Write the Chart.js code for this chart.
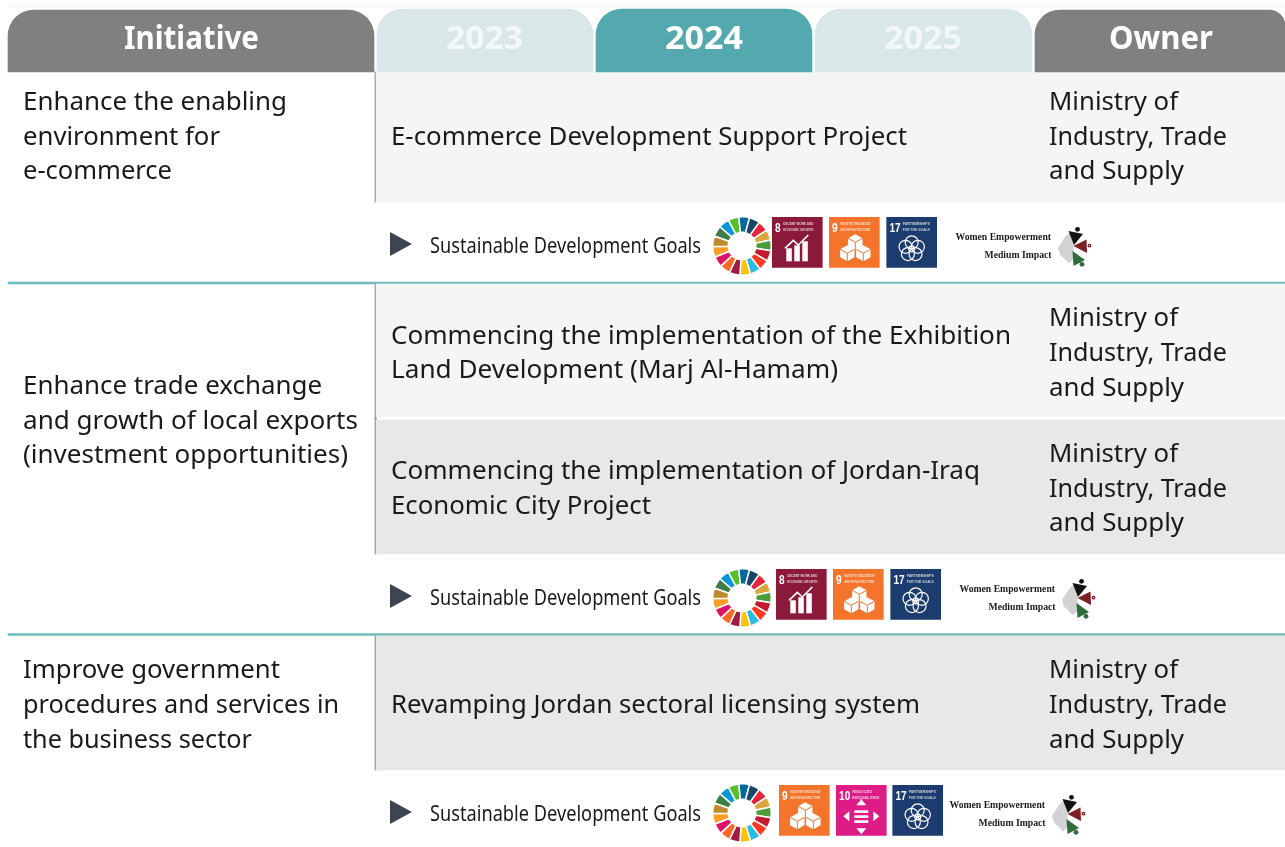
<!DOCTYPE html>
<html>
<head>
<meta charset="utf-8">
<title>Initiatives table</title>
<script src="https://cdn.jsdelivr.net/npm/chart.js@4"></script>
<style>
  html, body { margin: 0; padding: 0; background: #fff; overflow: hidden; }
  #wrap { position: relative; width: 1285px; height: 847px; filter: blur(0.35px); }
  #wrap canvas { position: absolute; }
  #wheel0, #wheel1, #wheel2 { filter: blur(0.6px); }
</style>
</head>
<body>
<div id="wrap">
  <canvas id="table" width="1285" height="847" style="left:0;top:0"></canvas>
  <canvas id="wheel0" width="60" height="60"></canvas>
  <canvas id="wheel1" width="60" height="60"></canvas>
  <canvas id="wheel2" width="60" height="60"></canvas>
</div>
<script>
// data
var columns = ["Initiative", "2023", "2024", "2025", "Owner"];
var initiatives = [
  ["Enhance the enabling", "environment for", "e-commerce"],
  ["Enhance trade exchange", "and growth of local exports", "(investment opportunities)"],
  ["Improve government", "procedures and services in", "the business sector"]
];
var projects = [
  ["E-commerce Development Support Project"],
  ["Commencing the implementation of the Exhibition", "Land Development (Marj Al-Hamam)"],
  ["Commencing the implementation of Jordan-Iraq", "Economic City Project"],
  ["Revamping Jordan sectoral licensing system"]
];
var owners = ["Ministry of", "Industry, Trade", "and Supply"];
var stripLabel = "Sustainable Development Goals";
var stripGoals = [[8, 9, 17], [8, 9, 17], [9, 10, 17]];
var womenLabels = ["Women Empowerment", "Medium Impact"];
var wheelSlices = [1, 1, 1, 1, 1, 1, 1, 1, 1, 1, 1, 1, 1, 1, 1, 1, 1];
var goalCaptions = {
  8: ["DECENT WORK AND", "ECONOMIC GROWTH"],
  9: ["INDUSTRY, INNOVATION", "AND INFRASTRUCTURE"],
  10: ["REDUCED", "INEQUALITIES"],
  17: ["PARTNERSHIPS", "FOR THE GOALS"]
};

// colours
var sdgColors = ["#e5243b", "#dda63a", "#4c9f38", "#c5192d", "#ff3a21", "#26bde2", "#fcc30b", "#a21942",
  "#fd6925", "#dd1367", "#fd9d24", "#bf8b2e", "#3f7e44", "#0a97d9", "#56c02b", "#00689d", "#19486a"];
var goalColors = { 8: "#8b1a3a", 9: "#f3742a", 10: "#dd1c85", 17: "#1c3b6e" };
var headColors = ["#808080", "#d9e7e8", "#53a9ae", "#d9e7e8", "#808080"];
var rowColors = ["#f5f5f5", "#f5f5f5", "#e9e7e8", "#e9e7e8"];

// table geometry, page pixels
var colLeft = [8, 377, 596, 815, 1035];
var colRight = [374, 593, 812, 1032, 1285];
var headTop = [10, 9, 9, 9, 10];
var headBottom = 72;
var rowTop = [72, 284, 420, 636];
var rowBottom = [202, 417, 554, 770];
var tealLines = [283, 634.5];
var ruleSpans = [[72, 202], [284, 554], [636, 770]];
var initiativeBase = [110, 394, 678.4];
var projectBase = [145, 343.7, 479, 713];
var ownerBase = [110, 326.3, 462, 678.3];
var lineStep = 34.7;
var stripMid = [244, 596, 812];
var stripTileLeft = [[772.3, 829.3, 886.7], [776.3, 833.3, 890.7], [779.3, 836.3, 892.7]];
var stripTileTop = [217.3, 569.3, 785.3];
var wheelCenter = [[741.7, 246], [741.7, 598], [741.7, 813]];
var logoAnchor = [[1058, 229], [1062, 581], [1052, 797]];
var tileSize = 50;

// measured line widths, so the substitute font lands on the same extents
var lineWidth = {
  "Enhance the enabling": 264, "environment for": 197, "e-commerce": 149,
  "Enhance trade exchange": 299, "and growth of local exports": 335, "(investment opportunities)": 325,
  "Improve government": 257, "procedures and services in": 316, "the business sector": 229,
  "E-commerce Development Support Project": 516,
  "Commencing the implementation of the Exhibition": 620, "Land Development (Marj Al-Hamam)": 447,
  "Commencing the implementation of Jordan-Iraq": 589, "Economic City Project": 260,
  "Revamping Jordan sectoral licensing system": 529,
  "Ministry of": 129, "Industry, Trade": 178, "and Supply": 135,
  "Sustainable Development Goals": 271,
  "Initiative": 135, "2023": 77, "2024": 78, "2025": 78, "Owner": 104
};

function band(label, y0, y1, bars) {
  return {
    label: label,
    barThickness: y1 - y0,
    grouped: false,
    borderSkipped: false,
    borderWidth: 0,
    data: bars.map(function (b) { return { x: [b.from, b.to], y: (y0 + y1) / 2 }; }),
    backgroundColor: bars.map(function (b) { return b.color; }),
    borderRadius: bars.map(function (b) { return b.radius || 0; })
  };
}

var datasets = [];
datasets.push(band("top line", 6, 7, [{ from: 8, to: 1285, color: "#f3f3f3" }]));
columns.forEach(function (name, i) {
  var r = i === 4 ? { topLeft: 25, topRight: 16, bottomLeft: 0, bottomRight: 0 }
                  : { topLeft: 26, topRight: 26, bottomLeft: 0, bottomRight: 0 };
  datasets.push(band(name, headTop[i], headBottom, [{ from: colLeft[i], to: colRight[i], color: headColors[i], radius: r }]));
});
projects.forEach(function (p, i) {
  datasets.push(band("project " + i, rowTop[i], rowBottom[i], [{ from: 376, to: 1285, color: rowColors[i] }]));
});
ruleSpans.forEach(function (s, i) {
  datasets.push(band("rule " + i, s[0], s[1], [{ from: 375, to: 376.3, color: "#868686" }]));
});
tealLines.forEach(function (y, i) {
  datasets.push(band("teal " + i, y - 1, y + 1, [{ from: 8, to: 1285, color: "#6dbcbb" }]));
});
stripGoals.forEach(function (goals, s) {
  datasets.push(band("goals " + s, stripTileTop[s], stripTileTop[s] + tileSize, goals.map(function (g, k) {
    return { from: stripTileLeft[s][k], to: stripTileLeft[s][k] + tileSize, color: goalColors[g] };
  })));
});

function fitText(ctx, text, x, y) {
  var w = lineWidth[text];
  var natural = ctx.measureText(text).width;
  ctx.save();
  ctx.translate(x, y);
  ctx.scale(w / natural, 1);
  ctx.fillText(text, 0, 0);
  ctx.restore();
}

function drawCube(ctx, cx, cy, s, color) {
  ctx.fillStyle = "#fff";
  ctx.beginPath();
  ctx.moveTo(cx, cy - s);
  ctx.lineTo(cx + s * 0.9, cy - s / 2);
  ctx.lineTo(cx + s * 0.9, cy + s / 2);
  ctx.lineTo(cx, cy + s);
  ctx.lineTo(cx - s * 0.9, cy + s / 2);
  ctx.lineTo(cx - s * 0.9, cy - s / 2);
  ctx.closePath();
  ctx.fill();
  ctx.strokeStyle = color;
  ctx.lineWidth = 1;
  ctx.beginPath();
  ctx.moveTo(cx - s * 0.9, cy - s / 2);
  ctx.lineTo(cx, cy);
  ctx.lineTo(cx + s * 0.9, cy - s / 2);
  ctx.moveTo(cx, cy);
  ctx.lineTo(cx, cy + s);
  ctx.stroke();
}

function drawGlyph(ctx, goal, x, y) {
  var color = goalColors[goal];
  ctx.save();
  ctx.filter = "blur(0.5px)";
  ctx.translate(x, y);
  ctx.fillStyle = "#fff";
  ctx.strokeStyle = "#fff";
  ctx.textAlign = "left";
  ctx.textBaseline = "alphabetic";

  // goal number, squeezed like the condensed original
  ctx.save();
  ctx.translate(2.7, 14.3);
  ctx.scale(0.75, 1);
  ctx.font = "bold 13.5px 'Liberation Sans'";
  ctx.fillText(String(goal), 0, 0);
  ctx.restore();

  ctx.font = "bold 4px 'Liberation Sans'";
  ctx.globalAlpha = 0.75;
  var capX = goal > 9 ? 16 : 11;
  var capW = goal > 9 ? 27 : 30;
  goalCaptions[goal].forEach(function (line, k) {
    ctx.fillText(line, capX, 7.5 + k * 5.8, capW);
  });
  ctx.globalAlpha = 1;

  if (goal === 8) {
    [[14, 31], [22, 28], [30, 24]].forEach(function (b) { ctx.fillRect(b[0], b[1], 5.5, 44 - b[1]); });
    ctx.lineWidth = 1.6;
    ctx.beginPath();
    ctx.moveTo(12.7, 31); ctx.lineTo(21, 23); ctx.lineTo(26, 27.7); ctx.lineTo(36, 17.7);
    ctx.stroke();
  } else if (goal === 9) {
    drawCube(ctx, 26, 25, 8, color);
    drawCube(ctx, 18, 36, 8, color);
    drawCube(ctx, 34, 36, 8, color);
  } else if (goal === 10) {
    ctx.fillRect(18, 25, 14, 2.6);
    ctx.fillRect(18, 30, 14, 2.6);
    ctx.fillRect(18, 35, 14, 2.6);
    [[25, 17, 0], [25, 46, Math.PI], [10, 31, -Math.PI / 2], [40, 31, Math.PI / 2]].forEach(function (a) {
      ctx.save();
      ctx.translate(a[0], a[1]);
      ctx.rotate(a[2]);
      ctx.beginPath();
      ctx.moveTo(0, -3); ctx.lineTo(5, 3); ctx.lineTo(-5, 3);
      ctx.closePath();
      ctx.fill();
      ctx.restore();
    });
  } else {
    ctx.lineWidth = 1.2;
    for (var i = 0; i < 5; i++) {
      var a = -Math.PI / 2 + i * 2 * Math.PI / 5;
      ctx.beginPath();
      ctx.arc(25 + 6.5 * Math.cos(a), 31.5 + 6.5 * Math.sin(a), 6.5, 0, Math.PI * 2);
      ctx.stroke();
    }
    ctx.beginPath();
    ctx.arc(25, 31.5, 3, 0, Math.PI * 2);
    ctx.stroke();
  }
  ctx.restore();
}

function poly(ctx, pts, color) {
  ctx.fillStyle = color;
  ctx.beginPath();
  pts.forEach(function (p, i) { if (i) ctx.lineTo(p[0], p[1]); else ctx.moveTo(p[0], p[1]); });
  ctx.closePath();
  ctx.fill();
}

function dot(ctx, x, y, r, color) {
  ctx.fillStyle = color;
  ctx.beginPath();
  ctx.arc(x, y, r, 0, Math.PI * 2);
  ctx.fill();
}

function drawLogo(ctx, x, y) {
  ctx.save();
  ctx.filter = "blur(0.5px)";
  ctx.translate(x, y);
  poly(ctx, [[12, 3], [15.5, 14], [15.5, 30], [11, 34.5], [2, 25.5], [0, 19], [7, 8]], "#d2d2d2");
  poly(ctx, [[10.5, 2], [25, 5], [16, 16]], "#111");
  dot(ctx, 19.5, 0.3, 2.4, "#111");
  poly(ctx, [[15.5, 17], [28.5, 10.5], [29, 24]], "#7d1f24");
  dot(ctx, 31.5, 16.7, 1.9, "#7d1f24");
  dot(ctx, 31.5, 16.7, 0.6, "#fff");
  poly(ctx, [[14.5, 22], [27, 31], [15.5, 37]], "#2f6b3c");
  dot(ctx, 24, 35.3, 2.4, "#2f6b3c");
  ctx.restore();
}

var tablePlugin = {
  id: "tableText",
  afterDatasetsDraw: function (chart) {
    var ctx = chart.ctx;
    var sx = chart.scales.x, sy = chart.scales.y;
    ctx.save();
    ctx.textBaseline = "alphabetic";
    ctx.textAlign = "left";

    // header
    ctx.font = "bold 32px 'Noto Sans'";
    var headX = [124, 446, 665, 884, 1109];
    columns.forEach(function (name, i) {
      ctx.fillStyle = (i === 1 || i === 3) ? "#f2f7f7" : "#fff";
      fitText(ctx, name, sx.getPixelForValue(headX[i]), sy.getPixelForValue(49));
    });

    // body
    ctx.font = "26px 'Noto Sans'";
    ctx.fillStyle = "#1a1a1a";
    initiatives.forEach(function (lines, i) {
      lines.forEach(function (t, k) {
        fitText(ctx, t, sx.getPixelForValue(23), sy.getPixelForValue(initiativeBase[i] + k * lineStep));
      });
    });
    projects.forEach(function (lines, i) {
      lines.forEach(function (t, k) {
        fitText(ctx, t, sx.getPixelForValue(391), sy.getPixelForValue(projectBase[i] + k * lineStep));
      });
      owners.forEach(function (t, k) {
        fitText(ctx, t, sx.getPixelForValue(1049), sy.getPixelForValue(ownerBase[i] + k * lineStep));
      });
    });

    // SDG strips
    stripGoals.forEach(function (goals, s) {
      var mid = stripMid[s];
      poly(ctx, [[390, mid - 12], [412, mid], [390, mid + 12]], "#3c4650");
      ctx.font = "22px 'Noto Sans'";
      ctx.fillStyle = "#1a1a1a";
      fitText(ctx, stripLabel, 430, mid + 8.5);
      goals.forEach(function (g, k) {
        drawGlyph(ctx, g, stripTileLeft[s][k], stripTileTop[s]);
      });
      var logo = logoAnchor[s];
      ctx.font = "bold 9.7px 'Liberation Serif'";
      ctx.fillStyle = "#1a1a1a";
      ctx.textAlign = "right";
      ctx.fillText(womenLabels[0], logo[0] - 7, logo[1] + 11);
      ctx.fillText(womenLabels[1], logo[0] - 6.5, logo[1] + 29);
      ctx.textAlign = "left";
      drawLogo(ctx, logo[0], logo[1]);
    });
    ctx.restore();
  }
};

new Chart(document.getElementById("table"), {
  type: "bar",
  data: { datasets: datasets },
  options: {
    indexAxis: "y",
    responsive: false,
    animation: false,
    layout: { padding: 0 },
    plugins: { legend: { display: false }, tooltip: { enabled: false } },
    scales: {
      x: { type: "linear", min: 0, max: 1285, display: false, offset: false, grid: { display: false } },
      y: { type: "linear", min: 0, max: 847, reverse: true, display: false, offset: false, grid: { display: false } }
    }
  },
  plugins: [tablePlugin]
});

// the SDG wheels are real doughnuts placed over the table
wheelCenter.forEach(function (c, i) {
  var el = document.getElementById("wheel" + i);
  el.style.left = (c[0] - 30) + "px";
  el.style.top = (c[1] - 30) + "px";
  new Chart(el, {
    type: "doughnut",
    data: { datasets: [{ data: wheelSlices, backgroundColor: sdgColors, borderColor: "#fff", borderWidth: 1.5 }] },
    options: {
      responsive: false,
      animation: false,
      rotation: 36,
      cutout: "47%",
      plugins: { legend: { display: false }, tooltip: { enabled: false } }
    }
  });
});
</script>
</body>
</html>
